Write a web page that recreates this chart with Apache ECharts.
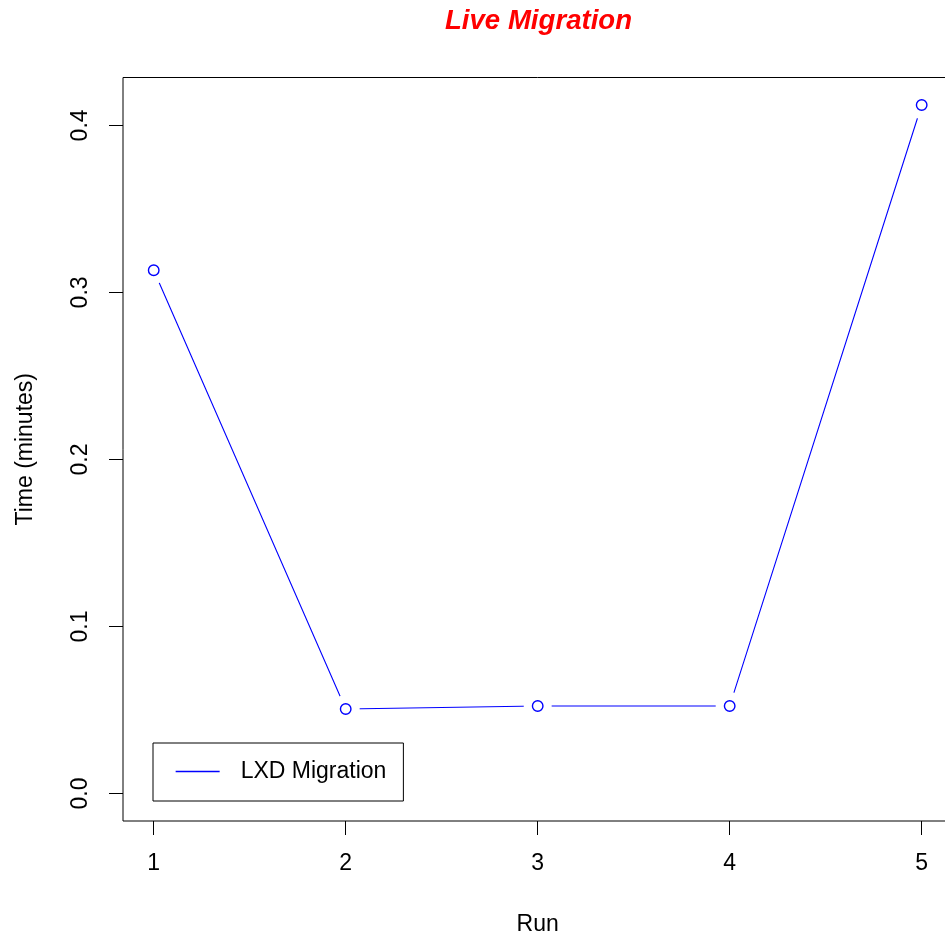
<!DOCTYPE html>
<html>
<head>
<meta charset="utf-8">
<script src="https://cdn.jsdelivr.net/npm/echarts@6/dist/echarts.min.js"></script>
<style>
html,body{margin:0;padding:0;background:#fff;overflow:hidden;}
#chart{width:953px;height:941px;}
</style>
</head>
<body>
<div id="chart"></div>
<script>
const runs = [1, 2, 3, 4, 5];
const migrationTime = [0.3133, 0.0506, 0.0524, 0.0524, 0.4122];
const xTicks = [1, 2, 3, 4, 5];
const yTicks = [0, 0.1, 0.2, 0.3, 0.4];
const seriesName = 'LXD Migration';

const points = runs.map((r, i) => [r, migrationTime[i]]);
const FONT = 'Liberation Sans, Arial, Helvetica, sans-serif';

const chart = echarts.init(document.getElementById('chart'), null, {renderer: 'canvas'});
chart.setOption({
  animation: false,
  backgroundColor: '#ffffff',
  title: {
    text: 'Live Migration',
    left: 445,
    top: 7,
    padding: 0,
    textStyle: {color: '#ff0000', fontFamily: FONT, fontSize: 27.6, fontWeight: 'bold', fontStyle: 'italic'}
  },
  legend: {
    data: [seriesName],
    left: 153,
    top: 743,
    orient: 'vertical',
    backgroundColor: '#ffffff',
    borderColor: '#000000',
    borderWidth: 1,
    borderRadius: 0,
    padding: [17, 17, 18, 22],
    itemWidth: 44,
    itemHeight: 14,
    selectedMode: false,
    itemStyle: {opacity: 0},
    lineStyle: {color: '#0000ff', width: 1.3, opacity: 1},
    textStyle: {color: '#000000', fontFamily: FONT, fontSize: 23, padding: [3, 0, 0, 16]}
  },
  grid: {
    left: 123,
    top: 77.5,
    right: 0.6,
    bottom: 119.5,
    show: true,
    borderColor: '#000000',
    borderWidth: 1,
    backgroundColor: 'transparent'
  },
  xAxis: {
    type: 'value',
    min: 0.84,
    max: 5.16,
    name: 'Run',
    nameLocation: 'middle',
    nameGap: 92,
    nameTextStyle: {color: '#000000', fontFamily: FONT, fontSize: 23},
    axisLine: {show: false, onZero: false},
    splitLine: {show: false},
    axisTick: {show: true, inside: false, length: 14, customValues: xTicks, lineStyle: {color: '#000000', width: 1}},
    axisLabel: {show: true, margin: 31, customValues: xTicks, color: '#000000', fontFamily: FONT, fontSize: 23}
  },
  yAxis: {
    type: 'value',
    min: -0.01649,
    max: 0.42869,
    name: 'Time (minutes)',
    nameLocation: 'middle',
    nameGap: 86,
    nameRotate: 90,
    nameTextStyle: {color: '#000000', fontFamily: FONT, fontSize: 23},
    axisLine: {show: false, onZero: false},
    splitLine: {show: false},
    axisTick: {show: true, inside: false, length: 14, customValues: yTicks, lineStyle: {color: '#000000', width: 1}},
    axisLabel: {
      show: true, margin: 31, rotate: 90, customValues: yTicks,
      formatter: v => v.toFixed(1),
      color: '#000000', fontFamily: FONT, fontSize: 23
    }
  },
  series: [
    {
      name: seriesName,
      type: 'line',
      z: 2,
      data: points,
      symbol: 'none',
      lineStyle: {color: '#0000ff', width: 1.1},
      itemStyle: {color: '#0000ff'},
      silent: true
    },
    {
      name: 'gap',
      type: 'scatter',
      z: 5,
      data: points,
      symbol: 'circle',
      symbolSize: 28,
      itemStyle: {color: '#ffffff', opacity: 1},
      silent: true
    },
    {
      name: 'points',
      type: 'scatter',
      z: 6,
      data: points,
      symbol: 'circle',
      symbolSize: 10.5,
      itemStyle: {color: '#ffffff', borderColor: '#0000ff', borderWidth: 1.4, opacity: 1},
      silent: true
    }
  ]
});
</script>
</body>
</html>
